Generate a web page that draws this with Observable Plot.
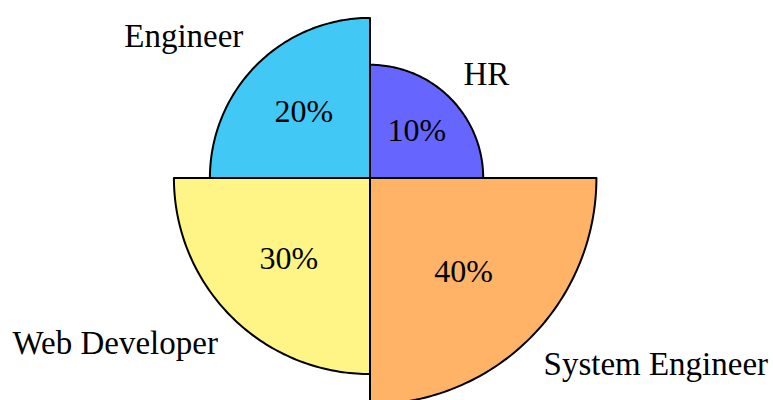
<!DOCTYPE html>
<html>
<head>
<meta charset="utf-8">
<script src="https://cdn.jsdelivr.net/npm/d3@7"></script>
<script src="https://cdn.jsdelivr.net/npm/@observablehq/plot@0.6"></script>
<style>
  html, body { margin: 0; padding: 0; background: #ffffff; }
  #chart svg { display: block; }
</style>
</head>
<body>
<div id="chart"></div>
<script>
// ---- data ----
const categories = ["HR", "Engineer", "Web Developer", "System Engineer"];
const values = [10, 20, 30, 40];
const colors = ["#6666ff", "#42c8f4", "#fff586", "#ffb366"];

// ---- layout ----
const W = 773, H = 400;
const k = 35.8;            // pixels per radius unit
const cx = 369.5, cy = 177.5;
const labelGap = 19 / k;   // gap between arc and outer label
const pctFrac = 0.585;     // percent label at this fraction of radius

// Each category takes one quadrant, counter-clockwise from east; radius ~ sqrt(value)
const slices = categories.map((c, i) => {
  const r = Math.sqrt(values[i]);
  const a0 = i * Math.PI / 2, a1 = (i + 1) * Math.PI / 2;
  return {category: c, value: values[i], r, a0, a1, mid: (a0 + a1) / 2};
});

const pts = [];
for (const s of slices) {
  pts.push({category: s.category, x: 0, y: 0});
  const n = 90;
  for (let j = 0; j <= n; j++) {
    const a = s.a0 + (s.a1 - s.a0) * j / n;
    pts.push({category: s.category, x: s.r * Math.cos(a), y: s.r * Math.sin(a)});
  }
  pts.push({category: s.category, x: 0, y: 0});
}

const font = "Liberation Serif";

// outer labels anchored at the corner facing the slice (like TikZ anchors),
// text box bottom includes descender depth
const outerMarks = slices.map(s => {
  const d = s.r + labelGap;
  const cosv = Math.cos(s.mid), sinv = Math.sin(s.mid);
  const above = sinv > 0;
  const descender = above && /[gjpqy]/.test(s.category) ? -4 : 0;
  return Plot.text([s], {
    x: () => d * cosv,
    y: () => d * sinv,
    text: "category",
    textAnchor: cosv > 0 ? "start" : "end",
    lineAnchor: above ? "bottom" : "top",
    dy: descender,
    fontSize: 33,
    fontFamily: font,
    fill: "#000"
  });
});

const chart = Plot.plot({
  width: W,
  height: H,
  margin: 0,
  style: {fontFamily: font, background: "#ffffff"},
  x: {domain: [-cx / k, (W - cx) / k], axis: null},
  y: {domain: [-(H - cy) / k, cy / k], axis: null},
  color: {domain: categories, range: colors},
  marks: [
    Plot.line(pts, {
      x: "x", y: "y", z: "category",
      fill: "category",
      stroke: "#000",
      strokeWidth: 2,
      strokeLinejoin: "round"
    }),
    Plot.text(slices, {
      x: s => pctFrac * s.r * Math.cos(s.mid),
      y: s => pctFrac * s.r * Math.sin(s.mid),
      text: s => s.value + "%",
      textAnchor: "middle",
      lineAnchor: "middle",
      fontSize: 32,
      fontFamily: font,
      fill: "#000"
    }),
    ...outerMarks
  ]
});
document.getElementById("chart").appendChild(chart);
</script>
</body>
</html>
